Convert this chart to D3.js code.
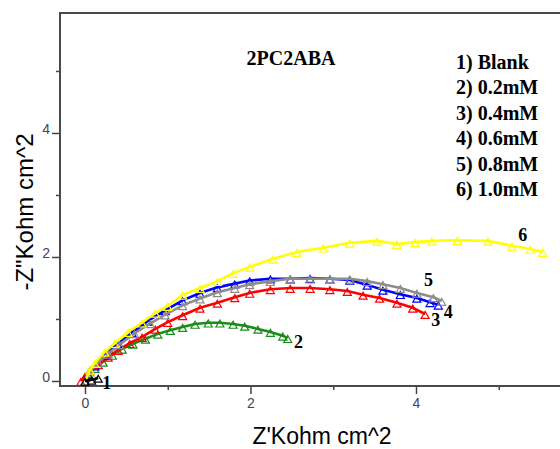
<!DOCTYPE html>
<html>
<head>
<meta charset="utf-8">
<script src="https://cdn.jsdelivr.net/npm/d3@7"></script>
<style>
  body { margin: 0; background: #fff; }
  .tick text { font-family: "Liberation Sans", Arial, sans-serif; font-size: 14px; fill: #445; }
  .tick line { stroke: #444; stroke-width: 1.5; }
</style>
</head>
<body>
<script>
// series: [Z', -Z''] in kohm cm^2
var blank = [[0, 0], [0.08, 0.02], [0.16, 0.05]];
var mM02 = [[0, 0], [0.04, 0.11], [0.12, 0.21], [0.22, 0.31], [0.33, 0.42], [0.45, 0.52],
  [0.58, 0.60], [0.73, 0.68], [0.88, 0.76], [1.03, 0.82], [1.18, 0.87], [1.33, 0.92],
  [1.49, 0.94], [1.63, 0.94], [1.79, 0.92], [1.93, 0.89], [2.09, 0.84], [2.24, 0.79],
  [2.39, 0.73], [2.45, 0.69]];
var mM04 = [[-0.05, 0], [0, 0.08], [0.06, 0.18], [0.16, 0.27], [0.28, 0.39], [0.40, 0.50],
  [0.54, 0.61], [0.69, 0.71], [0.85, 0.84], [1.00, 0.95], [1.18, 1.06], [1.39, 1.18],
  [1.60, 1.26], [1.81, 1.35], [1.99, 1.42], [2.24, 1.48], [2.48, 1.50], [2.72, 1.50],
  [2.96, 1.48], [3.17, 1.45], [3.36, 1.39], [3.56, 1.34], [3.77, 1.26], [3.96, 1.18],
  [4.11, 1.08]];
var mM06 = [[0, 0], [0.04, 0.12], [0.12, 0.25], [0.24, 0.42], [0.40, 0.60], [0.57, 0.78],
  [0.76, 0.97], [0.97, 1.14], [1.18, 1.30], [1.39, 1.42], [1.60, 1.51], [1.81, 1.57],
  [1.99, 1.62], [2.24, 1.65], [2.48, 1.65], [2.72, 1.66], [2.96, 1.65], [3.20, 1.63],
  [3.41, 1.55], [3.60, 1.47], [3.81, 1.40], [4.01, 1.34], [4.17, 1.27], [4.27, 1.23]];
var mM08 = [[0, 0], [0.06, 0.15], [0.16, 0.30], [0.28, 0.44], [0.42, 0.59], [0.60, 0.77],
  [0.79, 0.93], [0.97, 1.07], [1.18, 1.22], [1.39, 1.33], [1.60, 1.43], [1.81, 1.50],
  [1.99, 1.56], [2.24, 1.61], [2.48, 1.65], [2.72, 1.65], [2.96, 1.65], [3.20, 1.65],
  [3.41, 1.61], [3.60, 1.56], [3.81, 1.50], [4.01, 1.42], [4.21, 1.35], [4.31, 1.29]];
var mM10 = [[0, 0], [0.06, 0.18], [0.12, 0.29], [0.24, 0.47], [0.36, 0.61], [0.52, 0.79],
  [0.69, 0.94], [0.85, 1.10], [1.00, 1.21], [1.18, 1.39], [1.39, 1.50], [1.60, 1.61],
  [1.79, 1.74], [1.99, 1.84], [2.27, 1.97], [2.56, 2.08], [2.88, 2.15], [3.20, 2.23],
  [3.53, 2.26], [3.77, 2.21], [3.99, 2.24], [4.19, 2.26], [4.50, 2.27], [4.87, 2.26],
  [5.16, 2.18], [5.38, 2.13], [5.53, 2.08]];

var legendItems = ["1) Blank", "2) 0.2mM", "3) 0.4mM", "4) 0.6mM", "5) 0.8mM", "6) 1.0mM"];
var curveNames = ["1", "2", "3", "4", "5", "6"];
// where each curve number sits, in data units
var curveLabelAt = [[0.21, -0.02], [2.58, 0.63], [4.24, 0.99], [4.39, 1.11], [4.15, 1.63], [5.29, 2.36]];
var majorTicks = [0, 2, 4];
var minorTicks = [1, 3, 5];

var series = [
  {data: mM02, color: "#1a8c1a"},
  {data: mM04, color: "#ff0000"},
  {data: mM06, color: "#0000ff"},
  {data: mM08, color: "#8c8c8c"},
  {data: mM10, color: "#ffff00"},
  {data: blank, color: "#000000"}
];

var W = 560, H = 449;
var xScale = d3.scaleLinear().domain([-0.302, 5.74]).range([60, 560]);
var yScale = d3.scaleLinear().domain([-0.081, 5.935]).range([386, 13]);

var svg = d3.select("body").append("svg")
    .attr("width", W)
    .attr("height", H);

// axes (Origin style: major + minor, labels above y ticks)
svg.append("g")
  .attr("transform", "translate(0,386)")
  .call(d3.axisBottom(xScale).tickValues(majorTicks).tickSize(8).tickPadding(4).tickFormat(d3.format("d")))
  .call(function(g) { g.select(".domain").remove(); });
svg.append("g")
  .attr("transform", "translate(0,386)")
  .call(d3.axisBottom(xScale).tickValues(minorTicks).tickSize(4).tickFormat(""))
  .call(function(g) { g.select(".domain").remove(); });

svg.append("g")
  .attr("transform", "translate(60,0)")
  .call(d3.axisLeft(yScale).tickValues(majorTicks).tickSize(8).tickPadding(2).tickFormat(d3.format("d")))
  .call(function(g) {
    g.select(".domain").remove();
    g.selectAll(".tick text").attr("dy", "0.05em");
  });
svg.append("g")
  .attr("transform", "translate(60,0)")
  .call(d3.axisLeft(yScale).tickValues(minorTicks).tickSize(4).tickFormat(""))
  .call(function(g) { g.select(".domain").remove(); });

// frame, open on the right
var x0 = xScale.range()[0], x1 = xScale.range()[1];
var y0 = yScale.range()[0], y1 = yScale.range()[1];
svg.append("path")
  .attr("d", "M" + x1 + "," + y1 + "H" + x0 + "V" + y0 + "H" + x1)
  .attr("fill", "none")
  .attr("stroke", "#4a4a4a")
  .attr("stroke-width", 2);

// curves
var line = d3.line()
    .x(function(d) { return xScale(d[0]); })
    .y(function(d) { return yScale(d[1]); });
var tri = d3.symbol().type(d3.symbolTriangle).size(28);

series.forEach(function(s) {
  var g = svg.append("g");
  g.append("path")
    .datum(s.data)
    .attr("d", line)
    .attr("fill", "none")
    .attr("stroke", s.color)
    .attr("stroke-width", 2.6);
  g.selectAll("path.pt")
    .data(s.data)
    .enter().append("path")
    .attr("class", "pt")
    .attr("d", tri)
    .attr("transform", function(d) {
      return "translate(" + xScale(d[0]) + "," + (yScale(d[1]) + 2) + ")";
    })
    .attr("fill", "none")
    .attr("stroke", s.color)
    .attr("stroke-width", 1.2);
});

// curve numbers
svg.selectAll("text.cnum")
  .data(curveNames)
  .enter().append("text")
  .attr("class", "cnum")
  .attr("x", function(d, i) { return xScale(curveLabelAt[i][0]); })
  .attr("y", function(d, i) { return yScale(curveLabelAt[i][1]); })
  .attr("dy", "0.35em")
  .attr("text-anchor", function(d, i) { return i === 0 ? "start" : "middle"; })
  .style("font-family", "'Liberation Serif', 'Times New Roman', serif")
  .style("font-weight", "bold")
  .style("font-size", "18px")
  .text(function(d) { return d; });

// title and legend text
svg.append("text")
  .attr("x", 291)
  .attr("y", 65)
  .attr("text-anchor", "middle")
  .style("font-family", "'Liberation Serif', 'Times New Roman', serif")
  .style("font-weight", "bold")
  .style("font-size", "20px")
  .text("2PC2ABA");

svg.selectAll("text.leg")
  .data(legendItems)
  .enter().append("text")
  .attr("class", "leg")
  .attr("x", 456)
  .attr("y", function(d, i) { return 69 + i * 25.4; })
  .style("font-family", "'Liberation Serif', 'Times New Roman', serif")
  .style("font-weight", "bold")
  .style("font-size", "20px")
  .text(function(d) { return d; });

// axis titles
svg.append("text")
  .attr("x", 322)
  .attr("y", 444)
  .attr("text-anchor", "middle")
  .style("font-family", "'Liberation Sans', Arial, sans-serif")
  .style("font-size", "23px")
  .text("Z'Kohm cm^2");

svg.append("text")
  .attr("transform", "rotate(-90)")
  .attr("x", -212)
  .attr("y", 33)
  .attr("text-anchor", "middle")
  .style("font-family", "'Liberation Sans', Arial, sans-serif")
  .style("font-size", "24px")
  .text("-Z\"Kohm cm^2");
</script>
</body>
</html>
